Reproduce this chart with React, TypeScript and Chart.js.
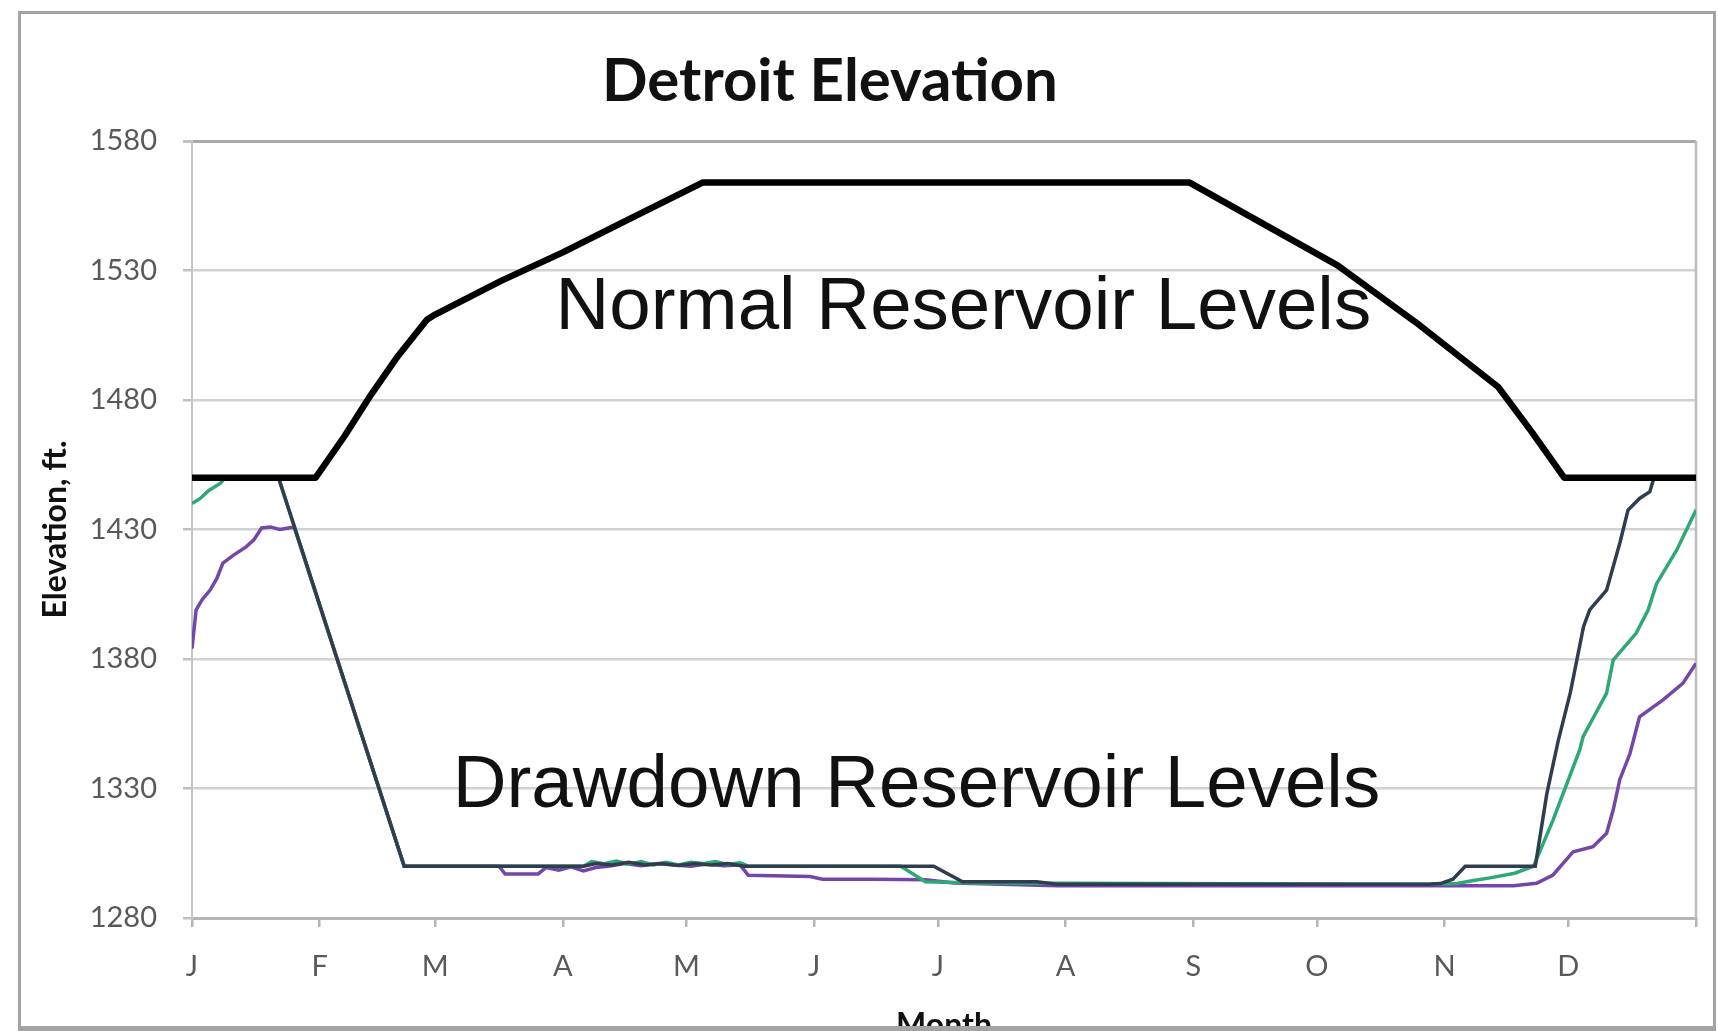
import React, { useEffect, useRef } from 'react';
import { Chart, registerables } from 'chart.js';

Chart.register(...registerables);

// ---- Data ----
const monthLabels = ['J', 'F', 'M', 'A', 'M', 'J', 'J', 'A', 'S', 'O', 'N', 'D'];
const monthStartDays = [0, 31, 59, 90, 120, 151, 181, 212, 243, 273, 304, 334, 365];
const yTickValues = [1280, 1330, 1380, 1430, 1480, 1530, 1580];

// Normal reservoir levels (black rule curve)
const normalDays = [0, 30, 37, 43, 50, 57, 59, 75, 90, 105, 124, 242, 260, 278, 297, 317, 325, 333, 365];
const normalElev = [1450, 1450, 1466, 1481, 1497, 1511, 1513, 1526, 1537, 1549, 1564, 1564, 1548, 1532, 1510, 1485, 1468, 1450, 1450];

// Drawdown scenario – dark slate
const slateDays = [0, 21, 51.5, 95, 98, 102, 106, 110, 114, 118, 122, 126, 130, 134, 180, 187, 205, 210, 300, 303, 306, 309, 325, 326, 328.8, 331.5, 334.5, 337.7, 339.2, 343.3, 346.5, 348.5, 351.3, 353.8, 354.6, 355.5, 365];
const slateElev = [1450, 1450, 1300, 1300, 1301, 1300.5, 1301.5, 1300.5, 1301, 1300.3, 1301, 1300.5, 1301, 1300, 1300, 1294, 1294, 1293, 1293, 1293.3, 1295, 1300, 1300, 1300, 1328, 1348, 1367, 1392.5, 1399, 1406.6, 1424.7, 1437.5, 1442, 1444.6, 1449, 1450, 1450];

// Drawdown scenario – green
const greenDays = [0, 2, 4, 7, 8, 21, 51.5, 95, 97, 100, 103, 106, 109, 112, 115, 118, 121, 124, 127, 130, 133, 135, 172, 178, 190, 300, 307, 311, 315, 321, 325.6, 330.3, 336.8, 337.6, 343.3, 344.9, 350.5, 353.4, 355.4, 360.3, 365];
const greenElev = [1440, 1442, 1445, 1448, 1450, 1450, 1300, 1300, 1301.8, 1301, 1302, 1300.8, 1301.8, 1300.5, 1301.5, 1300.5, 1301.5, 1301, 1301.8, 1300.7, 1301.3, 1300, 1300, 1294, 1293.5, 1293, 1293.3, 1294.5, 1295.5, 1297.3, 1300, 1317.8, 1345, 1350, 1366.8, 1379.6, 1390, 1399, 1409, 1422, 1437.5];

// Drawdown scenario – purple
const purpleDays = [0, 1, 2.5, 4.4, 6, 7.5, 10, 13.2, 15, 16.9, 19, 21.3, 24.8, 51.5, 74.5, 76, 84, 86, 89, 92, 95, 98, 101, 105, 109, 113, 117, 121, 125, 129, 133, 135, 150, 153, 165, 178, 185, 210, 320.7, 326.3, 330.3, 335.2, 340, 343.3, 344.9, 346.5, 349, 351.3, 357, 361.8, 365];
const purpleElev = [1384, 1399, 1403, 1406.6, 1411, 1417, 1420, 1423.4, 1426, 1430.6, 1431, 1430, 1431, 1300, 1300, 1297, 1297, 1299.5, 1298.5, 1299.8, 1298.2, 1299.5, 1300, 1301, 1300.2, 1301, 1300.5, 1300, 1300.8, 1300.2, 1300.5, 1296.5, 1296, 1295, 1295, 1294.8, 1293.5, 1292.5, 1292.5, 1293.4, 1296.6, 1305.6, 1307.5, 1312.7, 1321.7, 1333.4, 1343.6, 1357.7, 1364.2, 1370.6, 1378.3];

const toPoints = (xs: number[], ys: number[]) => xs.map((x, i) => ({ x, y: ys[i] }));

const W = 1718;
const H = 1031;

const textPlugin = {
  id: 'chartTexts',
  beforeDatasetsDraw(chart: any) {
    const { ctx, chartArea } = chart;
    ctx.save();
    ctx.strokeStyle = '#bdbdbd';
    ctx.lineWidth = 2.5;
    ctx.beginPath();
    ctx.moveTo(chartArea.right, chartArea.top);
    ctx.lineTo(chartArea.right, chartArea.bottom);
    ctx.stroke();
    ctx.restore();
  },
  afterDatasetsDraw(chart: any) {
    const { ctx, scales } = chart;
    const x = scales.x;
    const y = scales.y;
    ctx.save();
    ctx.fillStyle = '#111111';
    ctx.textAlign = 'center';
    ctx.textBaseline = 'alphabetic';
    ctx.font = 'bold 60px Lato';
    ctx.fillText('Detroit Elevation', 830, 101);
    ctx.font = '74.5px "Liberation Sans"';
    ctx.fillText('Normal Reservoir Levels', x.getPixelForValue(187.2), y.getPixelForValue(1507.5));
    ctx.fillText('Drawdown Reservoir Levels', x.getPixelForValue(175.8), y.getPixelForValue(1322.7));
    ctx.restore();
  },
};

export default function App() {
  const canvasRef = useRef<HTMLCanvasElement | null>(null);

  useEffect(() => {
    const canvas = canvasRef.current;
    if (!canvas) return;
    const tickFont = { family: 'Lato', size: 29 };
    const chart = new Chart(canvas, {
      type: 'line',
      data: {
        datasets: [
          {
            label: 'Normal Reservoir Levels',
            data: toPoints(normalDays, normalElev),
            borderColor: '#000000',
            borderWidth: 6.5,
            pointRadius: 0,
            tension: 0,
            borderJoinStyle: 'round',
          },
          {
            label: 'Drawdown A',
            data: toPoints(slateDays, slateElev),
            borderColor: '#2f3d4f',
            borderWidth: 3.5,
            pointRadius: 0,
            tension: 0,
          },
          {
            label: 'Drawdown B',
            data: toPoints(greenDays, greenElev),
            borderColor: '#2ea876',
            borderWidth: 3.5,
            pointRadius: 0,
            tension: 0,
          },
          {
            label: 'Drawdown C',
            data: toPoints(purpleDays, purpleElev),
            borderColor: '#7446a8',
            borderWidth: 3.5,
            pointRadius: 0,
            tension: 0,
          },
        ],
      },
      options: {
        responsive: false,
        animation: false,
        devicePixelRatio: 1,
        layout: { padding: { top: 141, right: 17, bottom: 0, left: 0 } },
        plugins: {
          legend: { display: false },
          tooltip: { enabled: false },
          title: { display: false },
        },
        scales: {
          x: {
            type: 'linear',
            min: 0,
            max: 365,
            afterFit: (scale: any) => {
              scale.height = 113;
            },
            afterBuildTicks: (scale: any) => {
              scale.ticks = monthStartDays.map((v) => ({ value: v }));
            },
            ticks: {
              autoSkip: false,
              maxRotation: 0,
              minRotation: 0,
              padding: 22,
              color: '#595959',
              font: tickFont,
              callback: (_v: any, i: number) => monthLabels[i] ?? '',
            },
            grid: {
              display: true,
              drawOnChartArea: false,
              drawTicks: true,
              tickLength: 9,
              color: '#b5b5b5',
              lineWidth: 2.5,
            },
            border: { display: true, color: '#b5b5b5', width: 3 },
            title: {
              display: true,
              text: 'Month',
              color: '#111111',
              font: { family: 'Lato', size: 32, weight: 'bold' },
              padding: { top: 0, bottom: -14 },
            },
          },
          y: {
            type: 'linear',
            min: 1280,
            max: 1580,
            afterFit: (scale: any) => {
              scale.width = 192;
            },
            afterBuildTicks: (scale: any) => {
              scale.ticks = yTickValues.map((v) => ({ value: v }));
            },
            ticks: {
              padding: 26,
              color: '#595959',
              font: tickFont,
              callback: (v: any) => String(v),
            },
            grid: {
              color: (c: any) => (c.tick && c.tick.value === 1580 ? '#a9a9a9' : '#d2d2d2'),
              lineWidth: (c: any) => (c.tick && c.tick.value === 1580 ? 3 : 2.5),
              tickColor: '#c0c0c0',
              tickLength: 9,
              drawTicks: true,
            },
            border: { display: true, color: '#c4c4c4', width: 2 },
            title: {
              display: true,
              text: 'Elevation, ft.',
              color: '#111111',
              font: { family: 'Lato', size: 32, weight: 'bold' },
              padding: { top: 36, bottom: 0 },
            },
          },
        },
      },
      plugins: [textPlugin],
    } as any);
    return () => chart.destroy();
  }, []);

  return (
    <div style={{ position: 'fixed', left: 0, top: 0, width: W, height: H, background: '#ffffff', overflow: 'hidden' }}>
      <canvas ref={canvasRef} width={W} height={H} style={{ position: 'absolute', left: 0, top: 0, width: W, height: H }} />
      <div
        style={{
          position: 'absolute',
          left: 18,
          top: 11,
          width: 1698,
          height: 1020,
          boxSizing: 'border-box',
          borderTop: '3px solid #a3a3a3',
          borderLeft: '3px solid #a3a3a3',
          borderRight: '3px solid #a3a3a3',
          borderBottom: '5px solid #a3a3a3',
          pointerEvents: 'none',
        }}
      />
    </div>
  );
}
